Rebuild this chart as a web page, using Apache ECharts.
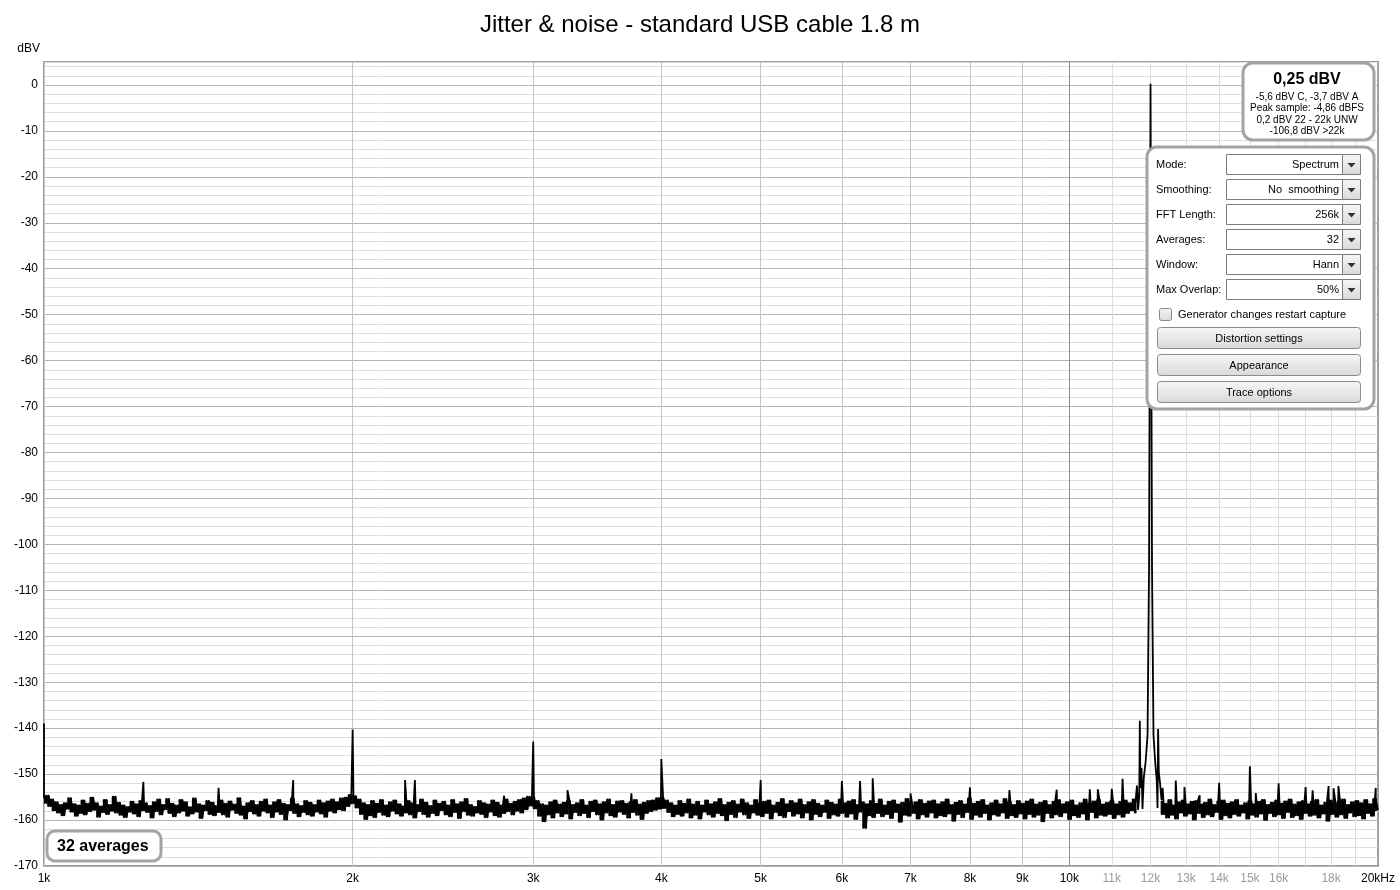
<!DOCTYPE html>
<html>
<head>
<meta charset="utf-8">
<script src="https://cdn.jsdelivr.net/npm/echarts@6/dist/echarts.min.js"></script>
<style>
html,body{margin:0;padding:0;background:#fff;}
#chart{width:1400px;height:890px;}
</style>
</head>
<body>
<div id="chart"></div>
<script>
// ---------------- DATA ----------------
const chartTitle = 'Jitter & noise - standard USB cable 1.8 m';
const yUnit = 'dBV';
const yMin = -170, yMax = 5, yStep = 2;
const xMinHz = 1000, xMaxHz = 20000;
const xGridHz = [1000,2000,3000,4000,5000,6000,7000,8000,9000,10000,11000,12000,13000,14000,15000,16000,17000,18000,19000,20000];
const xLabelHz = [1000,2000,3000,4000,5000,6000,7000,8000,9000,10000,11000,12000,13000,14000,15000,16000,18000,20000];
const xLabelText = ['1k','2k','3k','4k','5k','6k','7k','8k','9k','10k','11k','12k','13k','14k','15k','16k','18k','20kHz'];

// noise floor read across the span 1 kHz .. 20 kHz (log-spaced readings, dBV)
const noiseStartHz = 1000, noiseEndHz = 20000;
const noiseLevels = [
-155.0,-156.2,-154.8,-156.9,-155.6,-157.8,-156.2,-158.3,-156.8,-158.9,-156.4,-157.5,-155.3,-158.1,-156.6,-159.0,-156.9,-158.4,-155.8,-158.7,
-156.5,-158.0,-155.2,-157.7,-156.4,-159.2,-157.1,-158.2,-155.7,-158.6,-156.8,-157.9,-155.0,-158.3,-156.3,-158.8,-156.9,-159.3,-157.2,-158.1,
-156.1,-158.5,-156.6,-159.1,-155.9,-157.8,-156.4,-158.2,-157.0,-159.4,-156.2,-158.0,-155.6,-158.7,-156.8,-157.6,-155.5,-158.4,-156.5,-159.1,
-156.9,-158.3,-155.7,-157.9,-156.2,-159.0,-157.3,-158.5,-155.4,-158.1,-156.6,-159.5,-156.9,-157.8,-155.9,-158.6,-156.3,-158.9,-157.0,-158.2,
-155.8,-158.7,-156.5,-159.2,-156.0,-157.7,-156.7,-158.4,-155.3,-158.8,-157.1,-159.6,-156.4,-158.0,-155.9,-158.5,-156.8,-159.0,-156.1,-157.9,
-155.6,-158.3,-156.9,-159.3,-156.2,-158.1,-155.7,-158.6,-156.5,-159.8,-156.8,-157.8,-155.4,-158.4,-156.6,-159.1,-157.0,-158.2,-155.9,-158.7,
-156.3,-159.0,-156.8,-158.1,-155.8,-158.5,-156.4,-159.2,-156.0,-157.9,-155.6,-158.3,-156.2,-157.6,-155.4,-157.8,-155.2,-156.9,-154.6,-156.3,
-154.9,-157.2,-155.6,-158.6,-156.4,-159.7,-156.8,-158.9,-155.9,-159.3,-156.5,-158.2,-155.7,-158.8,-156.9,-159.1,-156.2,-157.9,-155.8,-158.5,
-156.6,-159.0,-157.1,-158.3,-155.9,-158.7,-156.4,-159.4,-156.8,-158.0,-155.6,-158.6,-156.3,-159.2,-157.0,-158.4,-155.8,-158.9,-156.5,-157.8,
-156.1,-158.7,-156.9,-159.1,-155.7,-158.2,-156.6,-159.5,-156.2,-158.0,-155.5,-158.8,-156.8,-159.0,-157.2,-158.3,-155.9,-158.6,-156.4,-159.3,
-156.7,-158.1,-155.8,-158.9,-156.3,-159.2,-156.9,-158.4,-155.6,-158.0,-156.5,-158.7,-156.1,-157.9,-155.7,-158.3,-155.4,-157.6,-155.0,-156.8,
-155.1,-157.4,-155.9,-159.0,-156.6,-160.2,-156.9,-158.7,-156.2,-159.4,-155.8,-158.3,-156.7,-159.1,-156.3,-158.5,-155.9,-159.6,-156.8,-158.2,
-156.4,-158.9,-155.7,-158.4,-156.9,-159.3,-156.1,-158.0,-155.8,-158.7,-156.6,-159.8,-156.2,-158.3,-155.6,-158.9,-156.8,-159.2,-156.0,-158.1,
-155.9,-158.6,-156.5,-159.4,-156.2,-158.2,-155.7,-158.8,-156.7,-159.7,-156.3,-158.4,-155.9,-158.0,-155.8,-157.7,-155.3,-157.5,-155.2,-157.3,
-155.8,-158.2,-156.4,-159.1,-156.9,-158.6,-155.9,-159.0,-156.5,-158.3,-155.6,-159.4,-156.7,-158.8,-156.1,-159.6,-156.9,-158.1,-155.8,-158.7,
-156.6,-159.2,-156.2,-158.4,-155.5,-158.9,-156.8,-160.0,-156.3,-158.6,-155.9,-159.3,-156.7,-158.1,-155.6,-158.7,-156.4,-159.5,-156.9,-158.3,
-155.7,-158.8,-156.5,-159.1,-156.1,-158.4,-155.8,-159.6,-156.9,-158.2,-156.3,-158.9,-155.5,-159.3,-156.6,-158.0,-155.9,-159.0,-156.4,-158.5,
-155.6,-159.4,-156.8,-158.3,-156.2,-159.8,-155.7,-158.6,-156.5,-159.1,-156.9,-158.2,-155.8,-159.5,-156.3,-158.7,-156.7,-159.0,-155.6,-158.4,
-156.4,-159.2,-156.0,-158.5,-155.7,-159.7,-156.8,-158.1,-156.2,-161.6,-156.6,-158.9,-155.9,-159.3,-156.5,-158.4,-155.6,-159.1,-156.9,-158.6,
-156.1,-159.5,-155.8,-158.2,-156.7,-160.3,-156.3,-158.8,-155.5,-159.0,-156.9,-158.4,-156.2,-159.6,-155.7,-158.7,-156.5,-159.2,-156.0,-158.3,
-155.8,-159.4,-156.6,-158.9,-156.2,-159.1,-155.6,-158.5,-156.8,-160.1,-156.3,-158.6,-155.9,-159.3,-156.7,-158.2,-155.4,-159.7,-156.5,-158.8,
-156.1,-159.2,-155.7,-158.4,-156.9,-159.8,-156.4,-158.7,-155.8,-159.0,-156.6,-158.3,-155.5,-159.5,-156.2,-158.9,-156.8,-159.3,-155.9,-158.5,
-156.5,-159.6,-156.0,-158.6,-155.6,-159.2,-156.7,-158.8,-156.3,-160.2,-155.9,-158.4,-156.8,-159.4,-156.1,-158.7,-155.7,-159.1,-156.6,-158.3,
-156.2,-159.7,-155.8,-158.9,-156.9,-159.3,-156.4,-158.5,-155.6,-159.8,-156.5,-158.2,-156.0,-159.4,-155.7,-158.8,-156.7,-159.0,-156.3,-158.6,
-155.9,-159.5,-156.6,-158.7,-156.1,-159.2,-155.8,-158.4,-156.4,-157.8,-155.6,-158.3,-156.2,-158.9,-156.8,-158.5,-155.9,-159.2,-156.5,-158.7,
-156.3,-159.1,-156.0,-158.6,-156.5,-159.4,-155.7,-158.8,-156.9,-159.6,-156.2,-158.3,-155.8,-159.0,-156.6,-158.5,-156.1,-159.8,-155.9,-158.4,
-156.7,-159.3,-156.3,-158.7,-155.6,-159.1,-156.8,-158.2,-156.0,-159.7,-155.8,-158.9,-156.5,-159.4,-156.2,-158.6,-155.7,-159.0,-156.9,-158.3,
-156.4,-159.6,-155.9,-158.8,-156.6,-159.2,-156.1,-158.5,-155.7,-159.9,-156.8,-158.4,-156.3,-159.1,-155.8,-158.7,-156.5,-159.5,-156.0,-158.2,
-155.6,-159.3,-156.7,-158.9,-156.2,-159.7,-155.9,-158.4,-156.6,-159.0,-156.1,-158.8,-155.7,-159.4,-156.9,-158.5,-156.3,-160.1,-155.8,-158.6,
-156.5,-159.2,-156.0,-158.7,-155.6,-159.5,-156.8,-158.3,-156.2,-159.1,-155.9,-158.9,-156.4,-159.6,-155.7,-158.4,-156.6,-159.0,-155.5,-157.8
];

// discrete spurs [Hz, dBV]
const spurs = [
[1000,-139.0],[1250,-151.7],[1480,-153.0],[1750,-151.3],[2000,-140.3],[2250,-151.3],[2300,-151.3],
[2810,-154.7],[3000,-142.9],[3240,-153.5],[3740,-154.2],[4000,-146.7],[5000,-151.3],[6000,-151.5],
[6250,-151.5],[6430,-150.9],[7000,-154.2],[8000,-152.9],[8740,-153.5],[9720,-153.4],[10470,-153.3],
[10660,-153.3],[11000,-153.2],[11270,-151.0],[12330,-153.0],[12700,-151.4],[12950,-152.8],[13400,-154.6],
[14000,-151.9],[15000,-148.3],[15200,-154.1],[16000,-152.0],[17000,-152.8],[17270,-153.5],[17900,-152.6],
[18100,-153.1],[18300,-152.6],[19900,-153.0]
];

// 12 kHz test tone with its skirt and close sidebands [Hz, dBV]
const carrier = [
[11600,-156.2],[11640,-152.5],[11670,-157.8],[11700,-154.6],[11715,-138.4],[11730,-153.0],[11760,-148.6],
[11785,-157.6],[11820,-150.8],[11870,-147.2],[11920,-141.5],[11960,-105],[11985,-40],[12000,0.25],
[12015,-40],[12040,-105],[12080,-141.5],[12130,-147.8],[12170,-151.5],[12190,-157.4],[12206,-140.2],
[12225,-149.5],[12260,-152.0],[12300,-155.6]
];

// readouts
const levelText = '0,25 dBV';
const levelLines = ['-5,6 dBV C, -3,7 dBV A','Peak sample: -4,86 dBFS','0,2 dBV 22 - 22k UNW','-106,8 dBV >22k'];
const controlLabels = ['Mode:','Smoothing:','FFT Length:','Averages:','Window:','Max Overlap:'];
const controlValues = ['Spectrum','No  smoothing','256k','32','Hann','50%'];
const checkboxText = 'Generator changes restart capture';
const buttonTexts = ['Distortion settings','Appearance','Trace options'];
const averagesText = '32 averages';

// ---------------- BUILD ----------------
const FONT = '"Liberation Sans", Arial, sans-serif';
const pts = [];
const bandData = [];
const cLo = carrier[0][0], cHi = carrier[carrier.length-1][0];
const L = noiseLevels.length;
for (let i = 0; i < L; i++) {
  const f = noiseStartHz * Math.pow(noiseEndHz / noiseStartHz, i / (L - 1));
  if (f >= cLo && f <= cHi) continue;
  pts.push([f, noiseLevels[i], 1]);
  // vertical extent between this reading and its neighbour
  const nb = noiseLevels[Math.min(i + 1, L - 1)];
  bandData.push([f, Math.min(noiseLevels[i], nb), Math.max(noiseLevels[i], nb)]);
}
spurs.forEach(s => pts.push([s[0], s[1], 0]));
carrier.forEach(s => pts.push([s[0], s[1], 0]));
pts.sort((a, b) => a[0] - b[0] || a[2] - b[2]);
const seriesData = pts.map(p => [p[0], p[1]]);

const xSplitColors = xGridHz.map(v => v === 10000 ? '#8e8e8e' : (v < 10000 ? '#c6c6c6' : (v === 20000 ? '#a0a0a0' : '#dddddd')));
const ySplitColors = ['#b4b4b4','#dedede','#dedede','#dedede','#dedede'];

const grad = () => new echarts.graphic.LinearGradient(0,0,0,1,[{offset:0,color:'#f7f7f7'},{offset:1,color:'#d9d9d9'}]);
const g = [];
// readout box
g.push({type:'rect', shape:{x:1243,y:63,width:131,height:77,r:10}, style:{fill:'#fff',stroke:'#a3a3a3',lineWidth:3}, z:100});
g.push({type:'text', x:1307, y:80, style:{text:levelText, font:'bold 16px '+FONT, fill:'#000', align:'center', verticalAlign:'middle'}, z:101});
levelLines.forEach((t,i)=>g.push({type:'text', x:1307, y:97+i*11.5, style:{text:t, font:'10px '+FONT, fill:'#000', align:'center', verticalAlign:'middle'}, z:101}));
// control panel
g.push({type:'rect', shape:{x:1147,y:147,width:227,height:262,r:10}, style:{fill:'#fff',stroke:'#a3a3a3',lineWidth:3}, z:100});
controlLabels.forEach((t,i)=>{
  const yc = 165 + i*25;
  g.push({type:'text', x:1156, y:yc, style:{text:t, font:'11px '+FONT, fill:'#000', align:'left', verticalAlign:'middle'}, z:101});
  g.push({type:'rect', shape:{x:1226.5,y:yc-10.5,width:116,height:20}, style:{fill:'#fff',stroke:'#7c7c7c',lineWidth:1}, z:101});
  g.push({type:'rect', shape:{x:1342.5,y:yc-10.5,width:18,height:20}, style:{fill:grad(),stroke:'#7c7c7c',lineWidth:1}, z:101});
  g.push({type:'polygon', shape:{points:[[1347.5,yc-2],[1355.5,yc-2],[1351.5,yc+2.5]]}, style:{fill:'#333'}, z:102});
  g.push({type:'text', x:1339, y:yc, style:{text:controlValues[i], font:'11px '+FONT, fill:'#000', align:'right', verticalAlign:'middle'}, z:102});
});
g.push({type:'rect', shape:{x:1159.5,y:308.5,width:12,height:12,r:2}, style:{fill:grad(),stroke:'#8a8a8a',lineWidth:1}, z:101});
g.push({type:'text', x:1178, y:314.5, style:{text:checkboxText, font:'11px '+FONT, fill:'#000', align:'left', verticalAlign:'middle'}, z:101});
buttonTexts.forEach((t,i)=>{
  const y0 = 327 + i*27;
  g.push({type:'rect', shape:{x:1157.5,y:y0+0.5,width:203,height:21,r:3}, style:{fill:grad(),stroke:'#8a8a8a',lineWidth:1}, z:101});
  g.push({type:'text', x:1259, y:y0+11.5, style:{text:t, font:'11px '+FONT, fill:'#000', align:'center', verticalAlign:'middle'}, z:102});
});
// averages box
g.push({type:'rect', shape:{x:47,y:831,width:114,height:30,r:8}, style:{fill:'#fff',stroke:'#a3a3a3',lineWidth:3}, z:100});
g.push({type:'text', x:57, y:847, style:{text:averagesText, font:'bold 16px '+FONT, fill:'#000', align:'left', verticalAlign:'middle'}, z:101});
// unit label
g.push({type:'text', x:40, y:49, style:{text:yUnit, font:'12px '+FONT, fill:'#000', align:'right', verticalAlign:'middle'}, z:101});

const chart = echarts.init(document.getElementById('chart'), null, {renderer:'canvas'});
chart.setOption({
  animation: false,
  backgroundColor: '#fff',
  title: {
    text: chartTitle, left: 'center', top: 8,
    textStyle: {fontSize: 24, fontWeight: 'normal', color: '#000', fontFamily: FONT}
  },
  grid: {
    left: 44, right: 22, top: 62, bottom: 24, containLabel: false, outerBoundsMode: 'none',
    show: true, borderColor: '#9c9c9c', borderWidth: 2, backgroundColor: '#fff'
  },
  xAxis: {
    type: 'log', logBase: 10, min: xMinHz, max: xMaxHz,
    axisLine: {show: false},
    axisTick: {show: false, customValues: xGridHz},
    splitLine: {show: true, lineStyle: {color: xSplitColors, width: 1}},
    axisLabel: {
      customValues: xLabelHz, margin: 7,
      fontSize: 12, fontFamily: FONT,
      formatter: v => { const k = xLabelHz.indexOf(Math.round(v)); return k >= 0 ? xLabelText[k] : ''; },
      color: v => (v > 10500 && v < 19500) ? '#9a9a9a' : '#000'
    }
  },
  yAxis: {
    type: 'value', min: yMin, max: yMax, interval: yStep,
    axisLine: {show: false}, axisTick: {show: false},
    splitLine: {show: true, lineStyle: {color: ySplitColors, width: 1}},
    axisLabel: {
      margin: 6, fontSize: 12, fontFamily: FONT, color: '#000',
      showMaxLabel: false,
      formatter: v => (Math.round(v) % 10 === 0) ? String(Math.round(v)) : ''
    }
  },
  series: [{
    name: 'band', type: 'custom', coordinateSystem: 'cartesian2d', data: bandData,
    encode: {x: 0, y: [1, 2]}, clip: true, silent: true, z: 3,
    renderItem: (params, api) => {
      const p1 = api.coord([api.value(0), api.value(1)]);
      const p2 = api.coord([api.value(0), api.value(2)]);
      return {type: 'line', shape: {x1: p1[0], y1: p1[1], x2: p2[0], y2: p2[1]},
              style: {stroke: '#000', lineWidth: 2.6, lineCap: 'round'}};
    }
  }, {
    name: 'trace', type: 'line', data: seriesData, showSymbol: false, symbol: 'none',
    lineStyle: {color: '#000', width: 1.8}, sampling: null, clip: true, z: 5
  }],
  graphic: {elements: g}
});
</script>
</body>
</html>
